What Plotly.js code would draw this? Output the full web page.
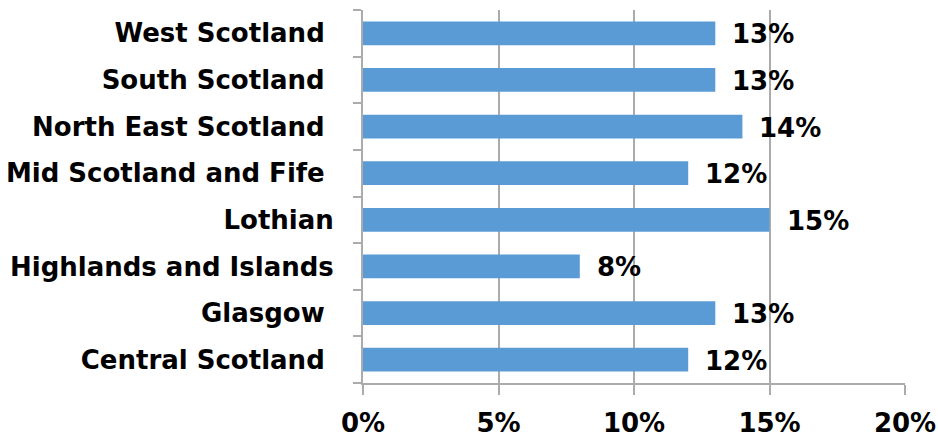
<!DOCTYPE html>
<html>
<head>
<meta charset="utf-8">
<script src="https://cdn.plot.ly/plotly-3.0.1.min.js"></script>
<style>html,body{margin:0;padding:0;background:#fff;}</style>
</head>
<body>
<div id="chart" style="width:938px;height:437px;"></div>
<script>
// Categories listed bottom to top
const regions = [
  "Central Scotland\u00A0",
  "Glasgow\u00A0",
  "Highlands and Islands",
  "Lothian",
  "Mid Scotland and Fife\u00A0",
  "North East Scotland\u00A0",
  "South Scotland\u00A0",
  "West Scotland\u00A0"
];
const shares = [12, 13, 8, 15, 12, 14, 13, 13];
const xTickVals = [0, 5, 10, 15, 20];
const xTickText = ["0%", "5%", "10%", "15%", "20%"];

const FONT = {family: "DejaVu Sans, Arial, sans-serif", size: 26, color: "#000", weight: "bold"};
const GRID = "#ABABAB";

const trace = {
  type: "bar",
  orientation: "h",
  y: regions,
  x: shares,
  marker: {color: "#5B9BD5"},
  hoverinfo: "none"
};

const annotations = regions.map((r, i) => ({
  x: shares[i], y: r, xref: "x", yref: "y",
  text: shares[i] + "%",
  showarrow: false, xanchor: "left", yanchor: "middle",
  xshift: 15, yshift: -1,
  font: FONT
}));

const layout = {
  width: 938, height: 437,
  margin: {l: 363, r: 33, t: 10, b: 54},
  paper_bgcolor: "#fff", plot_bgcolor: "#fff",
  bargap: 0.49,
  showlegend: false,
  xaxis: {
    range: [0, 20],
    tickvals: xTickVals, ticktext: xTickText,
    showgrid: true, gridcolor: GRID, gridwidth: 2,
    zeroline: false,
    showline: true, linecolor: GRID, linewidth: 2,
    ticks: "outside", ticklen: 10, tickcolor: GRID, tickwidth: 2,
    ticklabelstandoff: 6,
    tickfont: FONT,
    fixedrange: true
  },
  yaxis: {
    type: "category",
    categoryorder: "array", categoryarray: regions,
    showgrid: false, zeroline: false,
    showline: true, linecolor: GRID, linewidth: 2,
    ticks: "outside", ticklen: 8, tickcolor: GRID, tickwidth: 2,
    tickson: "boundaries",
    ticklabelstandoff: 22,
    tickfont: FONT,
    fixedrange: true
  },
  annotations: annotations
};

Plotly.newPlot("chart", [trace], layout, {displayModeBar: false, staticPlot: true});
</script>
</body>
</html>
